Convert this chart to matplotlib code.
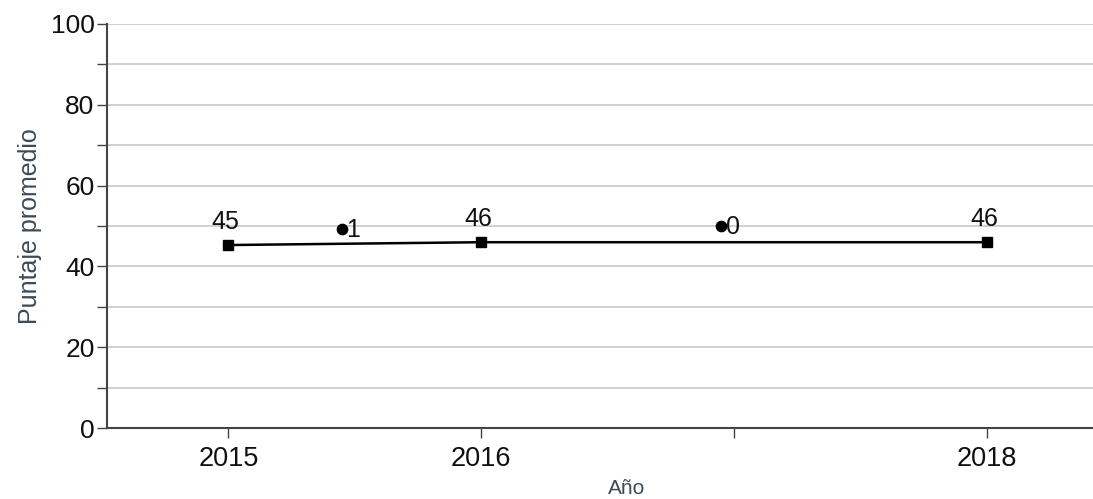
import matplotlib
matplotlib.use("Agg")
import matplotlib.pyplot as plt

plt.rcParams['font.family'] = ['Liberation Sans', 'DejaVu Sans']

years = [2015, 2016, 2018]
scores = [45.3, 46.0, 46.0]
score_labels = ["45", "46", "46"]
marker_x = [2015.45, 2016.95]
marker_y = [49.3, 50.0]
marker_labels = ["1", "0"]
xticks = [2015, 2016, 2017, 2018]
xtick_labels = ["2015", "2016", "", "2018"]
yticks_major = [0, 20, 40, 60, 80, 100]

fig = plt.figure(figsize=(10.93, 4.99), dpi=100)
ax = fig.add_axes([0.098, 0.142, 0.902, 0.810])

for y in range(10, 101, 10):
    ax.axhline(y, color='#c8c8c8', lw=1.2, zorder=0)

ax.plot(years, scores, color='black', lw=1.8, marker='s', markersize=7.5, zorder=3)
for x, y, t in zip(years, scores, score_labels):
    ax.annotate(t, (x, y), xytext=(-2, 8), textcoords='offset points',
                ha='center', va='bottom', fontsize=18, color='#111111')

ax.scatter(marker_x, marker_y, color='black', s=55, zorder=3)
for x, y, t in zip(marker_x, marker_y, marker_labels):
    ax.annotate(t, (x, y), xytext=(3, -1), textcoords='offset points',
                ha='left', va='center', fontsize=18, color='#111111')

ax.set_xlim(2014.52, 2018.42)
ax.set_ylim(0, 100)
ax.set_xticks(xticks)
ax.set_xticklabels(xtick_labels, fontsize=19.5, color='#101010')
ax.set_yticks(yticks_major)
ax.set_yticks(range(10, 100, 20), minor=True)
ax.tick_params(axis='y', which='both', length=7, width=1, color='#444444', labelsize=19, labelcolor='#101010', pad=2)
ax.tick_params(axis='x', length=7, width=1, color='#444444', pad=6)

for s in ['top', 'right']:
    ax.spines[s].set_visible(False)
for s in ['left', 'bottom']:
    ax.spines[s].set_color('#444444')
    ax.spines[s].set_linewidth(1.5)

ax.set_ylabel('Puntaje promedio', fontsize=18, color='#3e4a56', labelpad=6)
fig.text(627 / 1093, 1 - 489 / 499, 'Año', fontsize=15, color='#3e4a56', ha='center', va='center')

fig.savefig('out.png', dpi=100)
